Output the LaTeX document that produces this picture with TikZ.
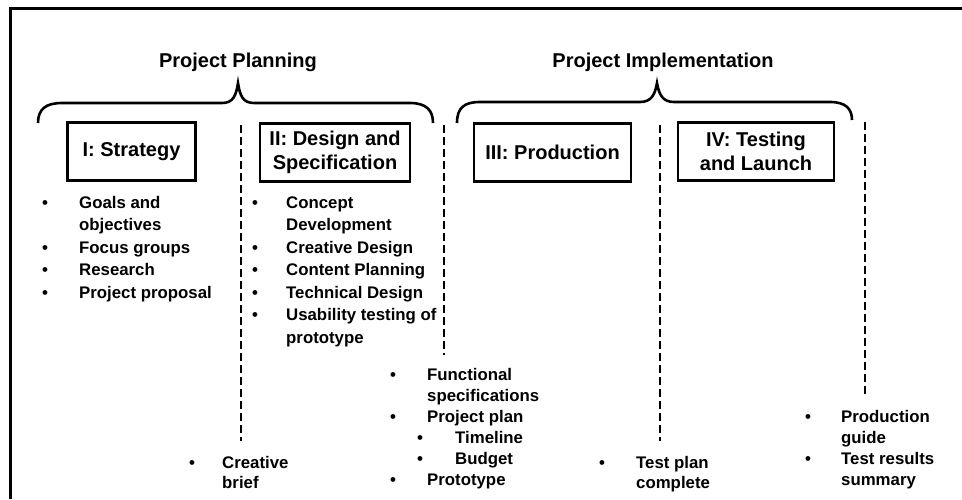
\documentclass[tikz,border=0pt]{standalone}
\usepackage{fontspec}
\setmainfont{Liberation Sans}
\usepackage{tikz}

\newcommand{\bitem}[1]{\makebox[#1][l]{\textbullet}}
\newcommand{\blist}[1]{\begin{tabular}[t]{@{}l@{}}#1\end{tabular}}

\begin{document}
\begin{tikzpicture}[x=1pt,y=-1pt,
    heading/.style={anchor=base, inner sep=0pt, font=\fontsize{20}{24}\selectfont\bfseries},
    phase/.style={draw, line width=2.6pt, minimum height=58pt, align=center, inner sep=0pt,
      font=\fontsize{20}{24}\selectfont\bfseries},
    bullets/.style={anchor=base west, inner sep=0pt, font=\fontsize{16.8}{#1}\selectfont\bfseries},
    bullets/.default=22.5,
    divider/.style={line width=2.8pt, dash pattern=on 8pt off 4pt},
    brace/.style={line width=2.6pt}]
      \useasboundingbox (0,0) rectangle (962,499);

      %%frame
      \draw [line width=3pt] (962,8) -- (10,8) -- (10,499);

      %%headings
      \node [heading] (planning) at (238,67) {Project Planning};
      \node [heading] (implementation) at (663,67) {Project Implementation};

      \draw [brace] (38,123) .. controls (38,109) and (46,103) .. (62,103) -- (222,103)
            .. controls (233,103) and (236,96) .. (238,83) .. controls (240,96) and (243,103) .. (254,103)
            -- (410,103) .. controls (426,103) and (433,110) .. (433,123);
      \draw [brace] (457,123) .. controls (457,108) and (464,102) .. (480,102) -- (640,102)
            .. controls (651,102) and (655,95) .. (657,83) .. controls (659,95) and (663,102) .. (674,102)
            -- (830,102) .. controls (846,102) and (852,109) .. (852,120);

      %%phases
      \node [phase, minimum width=128pt] (strategy) at (131.5,151.5) {I: Strategy};
      \node [phase, minimum width=150pt] (design) at (335,152.5) {II: Design and\\Specification};
      \node [phase, minimum width=157pt] (production) at (552.5,152.5) {III: Production};
      \node [phase, minimum width=156pt] (testing) at (756,151.5) {IV: Testing\\and Launch};

      %%dividers
      \draw [divider] (241,125) -- (241,441);
      \draw [divider] (444,125) -- (444,355);
      \draw [divider] (660,125) -- (660,441);
      \draw [divider] (865,122) -- (865,395);

      %%activities
      \node [bullets] (goals) at (42,208) {\blist{%
        \bitem{37pt}Goals and\\ \hspace{37pt}objectives\\
        \bitem{37pt}Focus groups\\ \bitem{37pt}Research\\ \bitem{37pt}Project proposal}};
      \node [bullets] (concept) at (252,208) {\blist{%
        \bitem{34pt}Concept\\ \hspace{34pt}Development\\
        \bitem{34pt}Creative Design\\ \bitem{34pt}Content Planning\\
        \bitem{34pt}Technical Design\\ \bitem{34pt}Usability testing of\\ \hspace{34pt}prototype}};

      %%deliverables
      \node [bullets=20] (brief) at (189,468) {\blist{%
        \bitem{33pt}Creative\\ \hspace{33pt}brief}};
      \node [bullets=21] (specs) at (390,380) {\blist{%
        \bitem{37pt}Functional\\ \hspace{37pt}specifications\\ \bitem{37pt}Project plan\\
        \hspace{27pt}\bitem{38pt}Timeline\\ \hspace{27pt}\bitem{38pt}Budget\\
        \bitem{37pt}Prototype}};
      \node [bullets=20] (testplan) at (599,468) {\blist{%
        \bitem{37pt}Test plan\\ \hspace{37pt}complete}};
      \node [bullets=21] (guide) at (805,422) {\blist{%
        \bitem{36pt}Production\\ \hspace{36pt}guide\\
        \bitem{36pt}Test results\\ \hspace{36pt}summary}};

      \end{tikzpicture}
\end{document}
